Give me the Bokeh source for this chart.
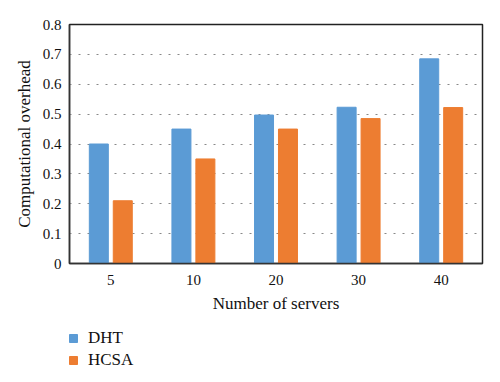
from bokeh.plotting import figure
from bokeh.models import ColumnDataSource, FactorRange, Legend, LegendItem
from bokeh.layouts import column
from bokeh.transform import dodge
from bokeh.embed import file_html
from bokeh.resources import INLINE

categories = ["5", "10", "20", "30", "40"]
dht = [0.40, 0.45, 0.497, 0.523, 0.685]
hcsa = [0.21, 0.35, 0.45, 0.485, 0.522]
series_names = ["DHT", "HCSA"]
colors = ["#5B9BD5", "#ED7D31"]

FONT = "Liberation Serif"

src = ColumnDataSource(dict(cat=categories, dht=dht, hcsa=hcsa))

p = figure(width=500, height=320, x_range=FactorRange(*categories), y_range=(0, 0.8),
           output_backend="svg", toolbar_location=None,
           min_border_left=69, min_border_right=18, min_border_top=24, min_border_bottom=57)

r1 = p.vbar(x=dodge("cat", -0.145, range=p.x_range), top="dht", width=0.23, source=src,
            fill_color=colors[0], line_color=colors[0])
r2 = p.vbar(x=dodge("cat", 0.145, range=p.x_range), top="hcsa", width=0.23, source=src,
            fill_color=colors[1], line_color=colors[1])

p.outline_line_color = "#222222"
p.outline_line_width = 1.5
p.xgrid.grid_line_color = None
p.ygrid.grid_line_color = "#888888"
p.ygrid.grid_line_dash = "2 7"
p.ygrid.grid_line_width = 1.2
p.x_range.range_padding = 0
p.x_range.group_padding = 0

p.yaxis.ticker = [0, 0.1, 0.2, 0.3, 0.4, 0.5, 0.6, 0.7, 0.8]
p.yaxis.major_label_overrides = {0: "0"}
for ax in (p.xaxis[0], p.yaxis[0]):
    ax.major_tick_line_color = None
    ax.minor_tick_line_color = None
    ax.axis_line_color = "#333333"
    ax.axis_line_width = 1.5
    ax.major_label_text_font = FONT
    ax.major_label_text_font_size = "15px"
    ax.major_label_text_color = "#111111"
    ax.axis_label_text_font = FONT
    ax.axis_label_text_font_size = "17px"
    ax.axis_label_text_font_style = "normal"
    ax.axis_label_text_color = "#111111"
p.yaxis.major_label_standoff = 2
p.xaxis.major_label_standoff = 5
p.yaxis.axis_label = "Computational overhead"
p.xaxis.axis_label = "Number of servers"
p.yaxis.axis_label_standoff = 6
p.xaxis.axis_label_standoff = 6

# Legend panel below the chart
p2 = figure(width=500, height=62, x_range=(0, 1), y_range=(0, 1),
            output_backend="svg", toolbar_location=None,
            min_border_left=0, min_border_right=0, min_border_top=0, min_border_bottom=0)
p2.axis.visible = False
p2.grid.visible = False
p2.outline_line_color = None
nan = float("nan")
placeholder = ColumnDataSource(dict(x=[nan], top=[nan]))
l1 = p2.vbar(x="x", top="top", width=0.1, source=placeholder, fill_color=colors[0], line_color=colors[0])
l2 = p2.vbar(x="x", top="top", width=0.1, source=placeholder, fill_color=colors[1], line_color=colors[1])

legend = Legend(items=[LegendItem(label=series_names[0], renderers=[l1]),
                       LegendItem(label=series_names[1], renderers=[l2])],
                location=(-1, 11), orientation="vertical",
                border_line_color=None, background_fill_alpha=0,
                glyph_width=10, glyph_height=10, label_standoff=10, spacing=0,
                label_height=22, label_text_font=FONT, label_text_font_size="17px",
                label_text_color="#111111", padding=0, margin=0)
p2.add_layout(legend, "center")

open("out.html", "w").write(file_html(column(p, p2, spacing=0), INLINE))
